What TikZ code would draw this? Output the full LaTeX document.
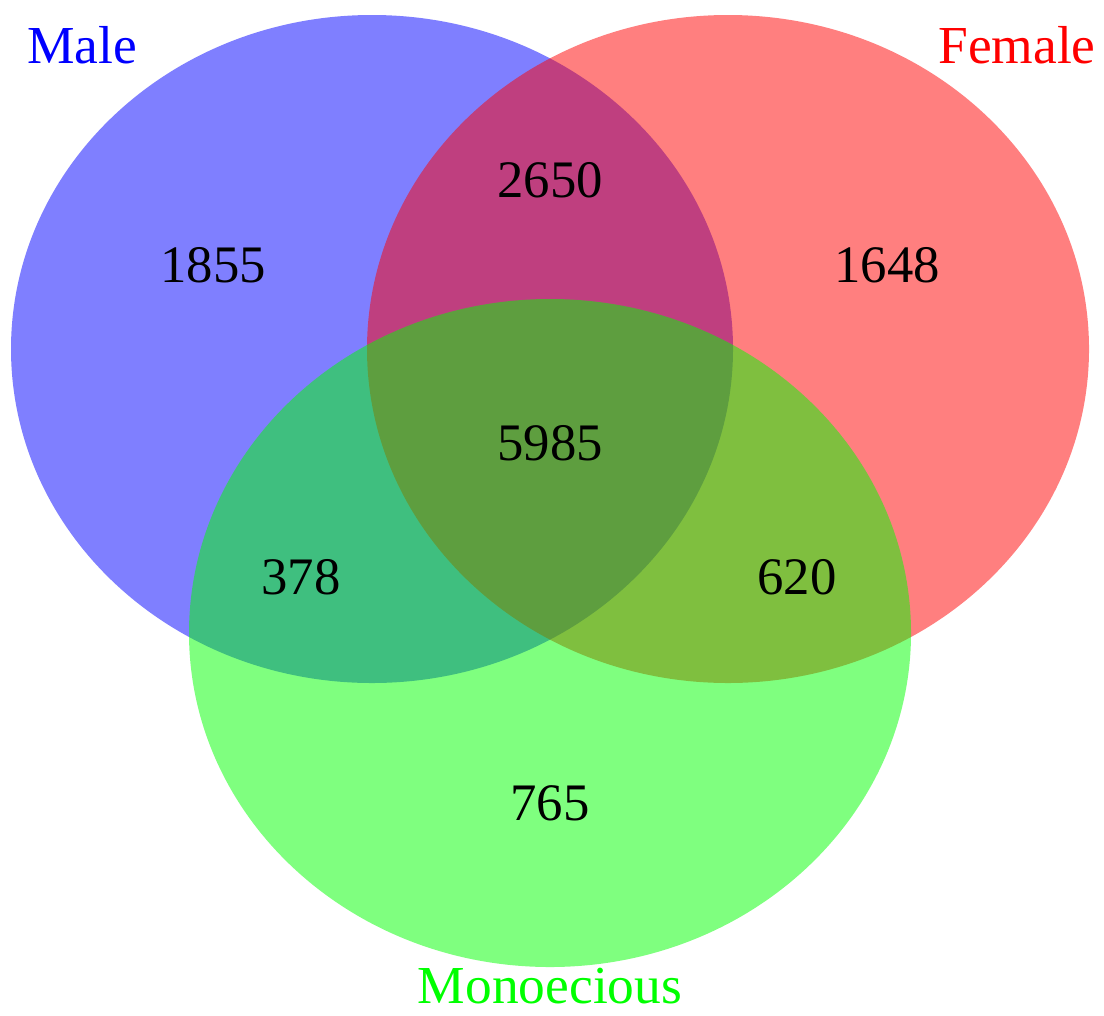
\documentclass[tikz,border=0pt]{standalone}
\usepackage{fontspec}
\setmainfont{Liberation Serif}

\begin{document}
\begin{tikzpicture}
	[set/.style={fill opacity=0.5},
	 count/.style={font=\fontsize{15}{18}\selectfont,anchor=center},
	 setname/.style={font=\fontsize{15.2}{18}\selectfont,anchor=center,inner sep=0pt}]
\useasboundingbox (0,0) rectangle (11.04,10.15);
% centres of the three sets
\coordinate (male) at (3.72,6.66);
\coordinate (female) at (7.28,6.66);
\coordinate (mono) at (5.50,3.82);
\fill[blue,set] (male) ellipse (3.61 and 3.34);
\fill[red,set] (female) ellipse (3.61 and 3.34);
\fill[green,set] (mono) ellipse (3.61 and 3.34);
% set names
\node[setname,text=blue] (maleName) at (0.82,9.70) {Male};
\node[setname,text=red] (femaleName) at (10.17,9.70) {Female};
\node[setname,text=green] (monoName) at (5.50,0.29) {Monoecious};
% counts
\node[count] (m) at (2.13,7.50) {1855};
\node[count] (mf) at (5.50,8.35) {2650};
\node[count] (f) at (8.87,7.50) {1648};
\node[count] (mfo) at (5.50,5.72) {5985};
\node[count] (mo) at (3.01,4.38) {378};
\node[count] (fo) at (7.97,4.38) {620};
\node[count] (o) at (5.50,2.12) {765};
\end{tikzpicture}
\end{document}
